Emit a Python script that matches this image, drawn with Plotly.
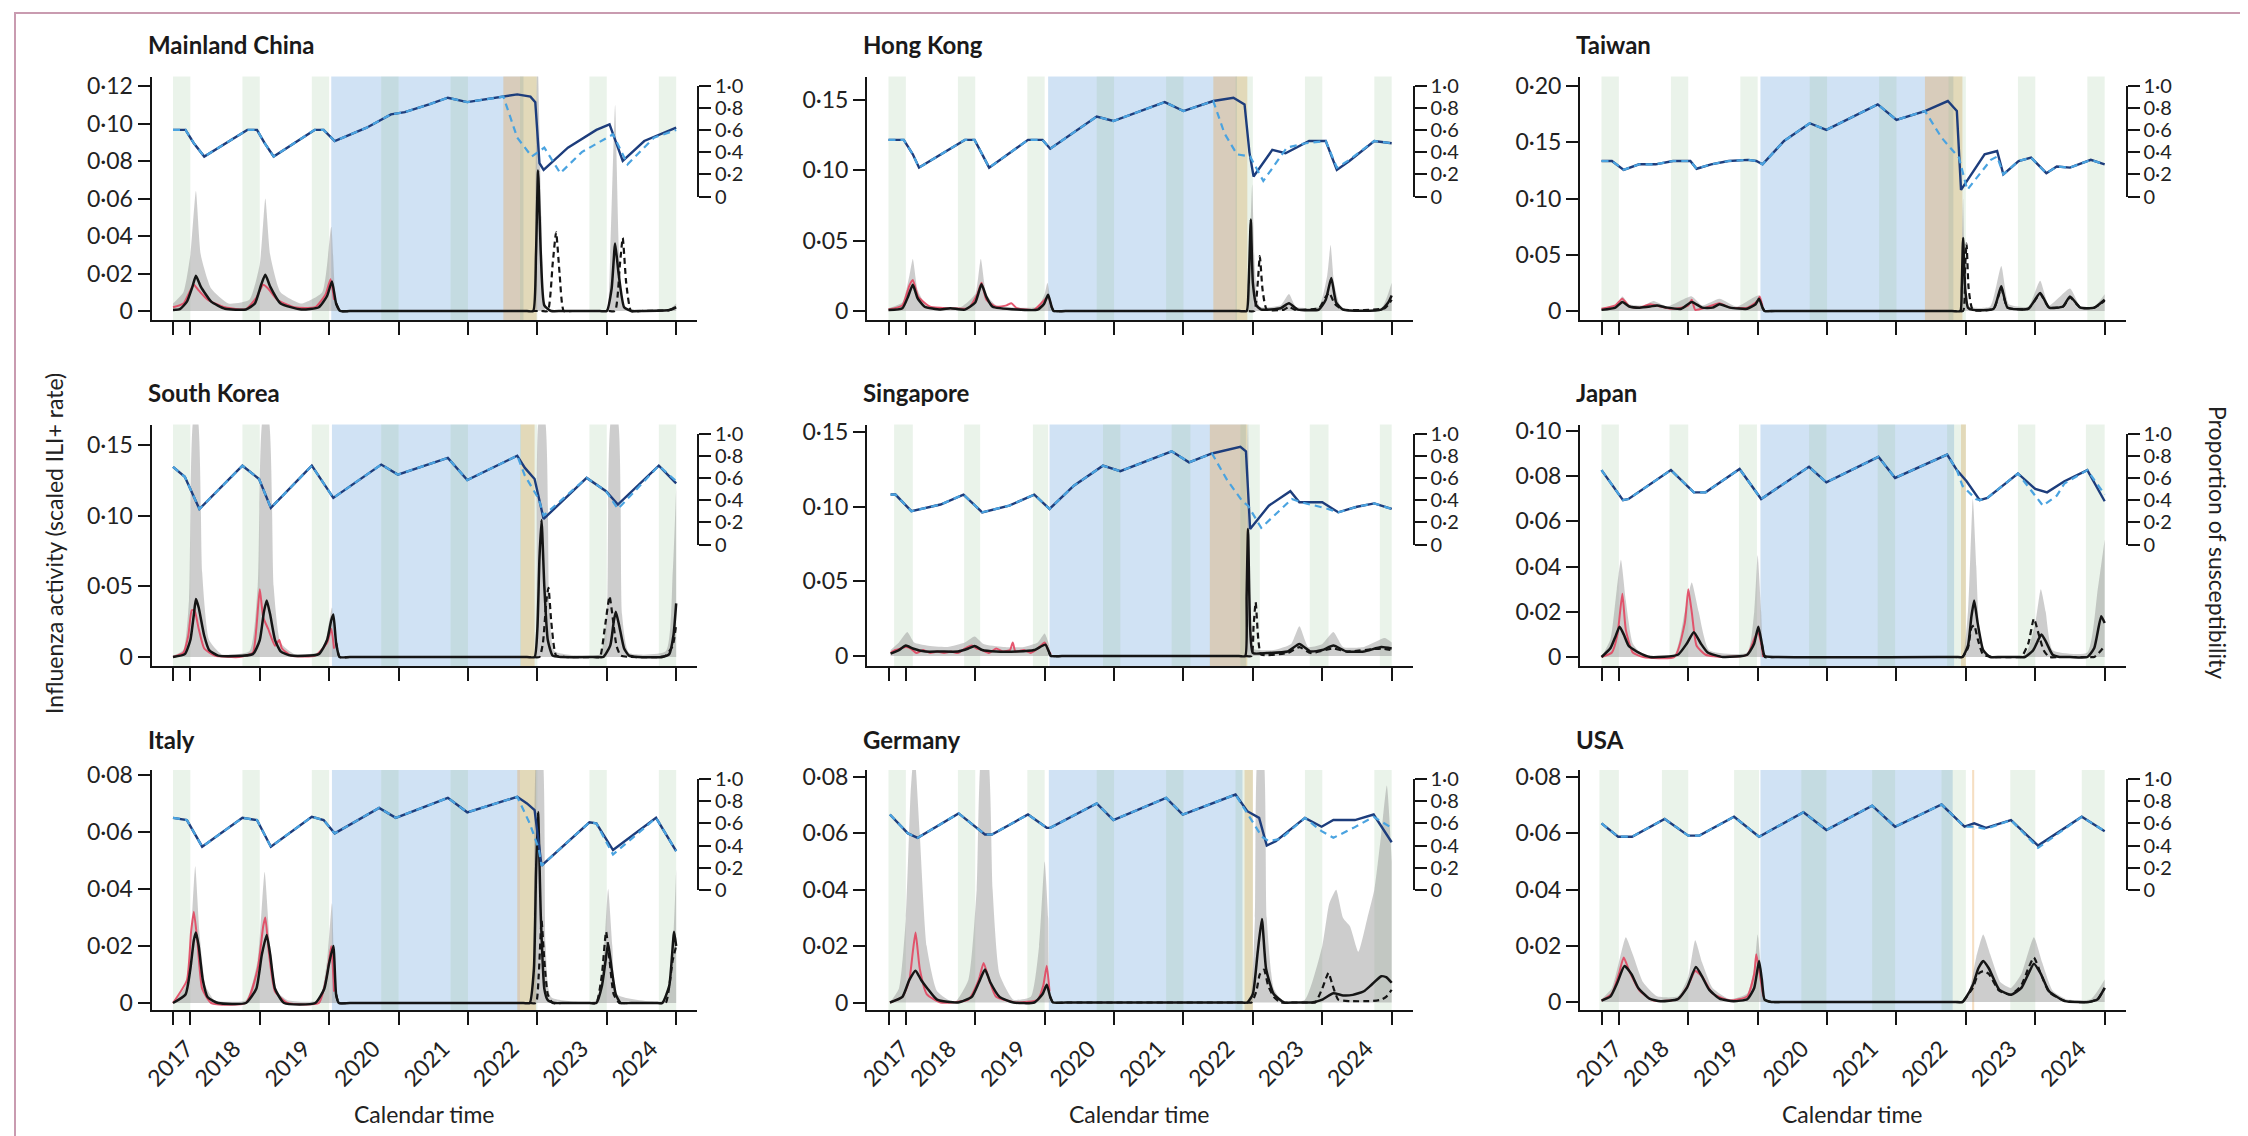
import plotly.graph_objects as go

W, H = 2248, 1136
FONT = "Lato"

# ---------------- shared axis values ----------------
YEAR_TICKS = [2017.75, 2018, 2019, 2020, 2021, 2022, 2023, 2024, 2025]
YEAR_LABEL_POS = [2017.95, 2018.63, 2019.64, 2020.64, 2021.64, 2022.64, 2023.64, 2024.64]
YEAR_LABELS = ["2017", "2018", "2019", "2020", "2021", "2022", "2023", "2024"]
SUS_TICKS = [0, 0.2, 0.4, 0.6, 0.8, 1.0]

# winter seasons (green bands)
season_std_start = [2017.75, 2018.75, 2019.75, 2020.75, 2021.75, 2022.75, 2023.75, 2024.75]
season_std_end = [2018.0, 2019.0, 2020.0, 2021.0, 2022.0, 2023.0, 2024.0, 2025.0]
season_jp_start = [2017.75, 2018.73, 2019.73, 2020.74, 2021.73, 2022.73, 2023.75, 2024.73]
season_jp_end = [2018.0, 2019.0, 2019.99, 2020.99, 2021.98, 2023.0, 2024.0, 2025.0]
season_us_start = [2017.72, 2018.62, 2019.66, 2020.63, 2021.65, 2022.65, 2023.64, 2024.67]
season_us_end = [2018.0, 2019.0, 2020.02, 2020.99, 2021.98, 2023.0, 2024.0, 2025.0]
season_sg_start = [2017.83, 2018.84, 2019.83, 2020.84, 2021.83, 2022.82, 2023.82, 2024.83]
season_sg_end = [2018.10, 2019.07, 2020.05, 2021.09, 2022.10, 2023.10, 2024.09, 2025.0]

# ---------------- Mainland China ----------------
cn_npi = [2020.03, 2022.80]
cn_relax = [2022.51, 2022.99]
cn_grey = [(2017.75,0.004),(2017.9,0.01),(2018.0,0.03),(2018.08,0.064),(2018.15,0.03),(2018.3,0.012),(2018.55,0.004),(2018.85,0.006),(2019.0,0.025),(2019.08,0.06),(2019.15,0.03),(2019.3,0.01),(2019.6,0.004),(2019.9,0.01),(2020.03,0.045),(2020.1,0.005),(2020.18,0),(2020.3,0),(2022.85,0),(2022.94,0),(2022.97,0.05),(2023.0,0.14),(2023.06,0.05),(2023.12,0),(2023.25,0),(2023.9,0),(2024.0,0),(2024.05,0.03),(2024.12,0.11),(2024.18,0.03),(2024.26,0.002),(2024.9,0.001),(2025.0,0.004)]
cn_obs = [(2017.75,0.002),(2017.9,0.004),(2018.0,0.011),(2018.05,0.014),(2018.12,0.011),(2018.25,0.006),(2018.5,0.002),(2018.8,0.001),(2018.95,0.007),(2019.05,0.014),(2019.12,0.012),(2019.25,0.006),(2019.5,0.002),(2019.8,0.002),(2019.95,0.009),(2020.02,0.017),(2020.07,0.006)]
cn_fit = [(2017.75,0.0005),(2017.85,0.001),(2017.95,0.005),(2018.03,0.013),(2018.08,0.0188),(2018.15,0.013),(2018.3,0.005),(2018.5,0.0012),(2018.8,0.0008),(2018.93,0.004),(2019.02,0.014),(2019.08,0.0193),(2019.15,0.013),(2019.3,0.004),(2019.6,0.0008),(2019.85,0.002),(2019.97,0.008),(2020.04,0.0158),(2020.1,0.004),(2020.16,0),(2020.3,0),(2022.85,0),(2022.94,0),(2022.98,0.03),(2023.01,0.075),(2023.05,0.03),(2023.1,0.003),(2023.2,0),(2023.35,0),(2023.9,0),(2024.0,0),(2024.07,0.012),(2024.12,0.036),(2024.17,0.02),(2024.25,0.002),(2024.35,0),(2024.5,0),(2024.9,0.0005),(2025.0,0.002)]
cn_cf = [(2020.1,0.004),(2020.16,0),(2020.3,0),(2023.05,0),(2023.15,0),(2023.22,0.025),(2023.27,0.042),(2023.32,0.02),(2023.38,0),(2023.5,0),(2024.02,0),(2024.12,0),(2024.19,0.025),(2024.23,0.039),(2024.28,0.015),(2024.35,0),(2024.5,0),(2024.9,0.0005),(2025.0,0.002)]
cn_sus = [(2017.75,0.60),(2017.93,0.60),(2018.05,0.48),(2018.2,0.36),(2018.82,0.60),(2018.96,0.60),(2019.07,0.48),(2019.2,0.36),(2019.79,0.60),(2019.92,0.60),(2020.08,0.50),(2020.54,0.62),(2020.89,0.74),(2021.09,0.76),(2021.44,0.83),(2021.71,0.89),(2021.99,0.85),(2022.47,0.90),(2022.71,0.92),(2022.9,0.90),(2022.97,0.85),(2023.03,0.30),(2023.09,0.24),(2023.44,0.44),(2023.85,0.60),(2024.04,0.65),(2024.23,0.32),(2024.54,0.50),(2025.0,0.62)]
cn_sus_cf = [(2022.51,0.90),(2022.71,0.53),(2022.92,0.36),(2023.1,0.44),(2023.33,0.21),(2023.64,0.40),(2024.09,0.56),(2024.3,0.29),(2024.68,0.53),(2025.0,0.60)]

# ---------------- Hong Kong ----------------
hk_npi = [2020.05, 2022.77]
hk_relax = [2022.43, 2022.92]
hk_grey = [(2017.75,0.002),(2017.95,0.006),(2018.05,0.025),(2018.1,0.037),(2018.17,0.015),(2018.3,0.004),(2018.8,0.003),(2019.0,0.012),(2019.08,0.037),(2019.16,0.012),(2019.3,0.004),(2019.9,0.003),(2020.0,0.012),(2020.04,0.02),(2020.1,0.004),(2020.15,0),(2020.3,0),(2022.8,0),(2022.92,0),(2022.96,0.05),(2022.99,0.09),(2023.03,0.03),(2023.1,0.003),(2023.4,0.004),(2023.52,0.012),(2023.62,0.003),(2023.95,0.003),(2024.07,0.025),(2024.12,0.047),(2024.17,0.02),(2024.28,0.002),(2024.85,0.002),(2025.0,0.02)]
hk_obs = [(2017.75,0.001),(2017.95,0.004),(2018.05,0.018),(2018.1,0.022),(2018.18,0.01),(2018.35,0.003),(2018.6,0.002),(2018.9,0.002),(2019.03,0.012),(2019.09,0.02),(2019.16,0.008),(2019.3,0.003),(2019.45,0.004),(2019.52,0.0055),(2019.6,0.002),(2019.85,0.001),(2020.0,0.008),(2020.05,0.01),(2020.1,0.003)]
hk_fit = [(2017.75,0.0007),(2017.95,0.002),(2018.03,0.01),(2018.1,0.0186),(2018.17,0.009),(2018.27,0.003),(2018.5,0.001),(2018.64,0.002),(2018.85,0.001),(2019.0,0.006),(2019.09,0.019),(2019.16,0.01),(2019.25,0.003),(2019.6,0.001),(2019.9,0.001),(2019.99,0.005),(2020.05,0.0115),(2020.1,0.003),(2020.13,0),(2020.3,0),(2022.8,0),(2022.91,0),(2022.94,0.02),(2022.97,0.065),(2023.0,0.02),(2023.05,0.004),(2023.12,0.001),(2023.4,0.002),(2023.52,0.0055),(2023.65,0.001),(2023.95,0.001),(2024.05,0.008),(2024.13,0.0234),(2024.2,0.006),(2024.3,0.001),(2024.85,0.001),(2024.95,0.006),(2025.0,0.011)]
hk_cf = [(2020.1,0.003),(2020.13,0),(2020.3,0),(2022.9,0),(2023.02,0),(2023.07,0.02),(2023.1,0.039),(2023.14,0.015),(2023.2,0.001),(2023.45,0.001),(2023.52,0.003),(2023.6,0.001),(2023.95,0.002),(2024.05,0.01),(2024.1,0.013),(2024.18,0.005),(2024.3,0.001),(2024.9,0.002),(2025.0,0.008)]
hk_sus = [(2017.75,0.51),(2017.97,0.51),(2018.1,0.38),(2018.19,0.26),(2018.85,0.51),(2018.99,0.51),(2019.1,0.38),(2019.2,0.26),(2019.76,0.51),(2019.97,0.51),(2020.08,0.43),(2020.75,0.72),(2020.99,0.68),(2021.73,0.85),(2022.0,0.77),(2022.43,0.86),(2022.72,0.89),(2022.88,0.83),(2022.95,0.40),(2023.01,0.18),(2023.28,0.42),(2023.47,0.39),(2023.81,0.50),(2024.05,0.50),(2024.21,0.24),(2024.39,0.32),(2024.75,0.50),(2025.0,0.48)]
hk_sus_cf = [(2022.43,0.86),(2022.59,0.57),(2022.77,0.38),(2022.96,0.36),(2023.15,0.14),(2023.49,0.44),(2023.76,0.48),(2024.05,0.50),(2024.21,0.26),(2024.39,0.33),(2024.75,0.50),(2025.0,0.48)]

# ---------------- Taiwan ----------------
tw_npi = [2020.04, 2022.82]
tw_relax = [2022.41, 2022.95]
tw_grey = [(2017.75,0.002),(2017.95,0.005),(2018.05,0.013),(2018.15,0.006),(2018.35,0.005),(2018.5,0.009),(2018.7,0.004),(2019.05,0.013),(2019.2,0.005),(2019.45,0.011),(2019.7,0.004),(2020.02,0.014),(2020.08,0.004),(2020.12,0),(2020.25,0),(2022.8,0),(2022.91,0),(2022.94,0.05),(2022.96,0.1),(2022.99,0.03),(2023.05,0.004),(2023.35,0.004),(2023.51,0.04),(2023.62,0.006),(2023.9,0.004),(2024.07,0.027),(2024.2,0.005),(2024.5,0.02),(2024.65,0.004),(2024.85,0.004),(2025.0,0.015)]
tw_obs = [(2017.75,0.002),(2017.95,0.005),(2018.05,0.011),(2018.15,0.004),(2018.3,0.003),(2018.45,0.006),(2018.6,0.004),(2018.75,0.002),(2018.9,0.003),(2019.0,0.005),(2019.05,0.01),(2019.1,0.001),(2019.25,0.003),(2019.45,0.007),(2019.6,0.003),(2019.85,0.003),(2020.0,0.009),(2020.03,0.013),(2020.07,0.004)]
tw_fit = [(2017.75,0.001),(2017.95,0.003),(2018.05,0.008),(2018.15,0.004),(2018.3,0.003),(2018.45,0.004),(2018.55,0.005),(2018.7,0.003),(2018.9,0.002),(2019.05,0.008),(2019.2,0.003),(2019.35,0.003),(2019.45,0.006),(2019.6,0.003),(2019.85,0.002),(2019.97,0.006),(2020.02,0.011),(2020.07,0.003),(2020.1,0),(2020.25,0),(2022.8,0),(2022.92,0),(2022.94,0.02),(2022.96,0.065),(2022.99,0.02),(2023.03,0.003),(2023.1,0.001),(2023.4,0.002),(2023.51,0.022),(2023.6,0.003),(2023.9,0.002),(2024.07,0.016),(2024.2,0.003),(2024.4,0.004),(2024.5,0.013),(2024.65,0.003),(2024.85,0.003),(2025.0,0.01)]
tw_cf = [(2020.07,0.003),(2020.1,0),(2020.25,0),(2022.85,0),(2022.96,0),(2022.99,0.04),(2023.01,0.06),(2023.04,0.02),(2023.1,0.001),(2023.4,0.002),(2023.51,0.02),(2023.6,0.003),(2023.9,0.002),(2024.07,0.015),(2024.2,0.003),(2024.4,0.004),(2024.5,0.012),(2024.65,0.003),(2024.85,0.003),(2025.0,0.009)]
tw_sus = [(2017.75,0.32),(2017.9,0.32),(2018.07,0.24),(2018.29,0.29),(2018.53,0.29),(2018.78,0.32),(2019.03,0.32),(2019.12,0.25),(2019.33,0.29),(2019.58,0.32),(2019.86,0.33),(2019.98,0.32),(2020.07,0.29),(2020.38,0.50),(2020.75,0.66),(2020.99,0.60),(2021.73,0.83),(2022.0,0.69),(2022.41,0.77),(2022.74,0.86),(2022.87,0.77),(2022.93,0.06),(2023.27,0.38),(2023.45,0.41),(2023.54,0.20),(2023.76,0.32),(2023.94,0.35),(2024.16,0.21),(2024.31,0.27),(2024.5,0.26),(2024.8,0.33),(2025.0,0.29)]
tw_sus_cf = [(2022.41,0.77),(2022.65,0.53),(2022.9,0.35),(2023.02,0.06),(2023.36,0.33),(2023.45,0.36),(2023.54,0.20),(2023.76,0.32),(2023.94,0.35),(2024.16,0.21),(2024.31,0.27),(2024.5,0.26),(2024.8,0.33),(2025.0,0.29)]

# ---------------- South Korea ----------------
kr_npi = [2020.04, 2022.76]
kr_relax = [2022.76, 2022.96]
kr_grey = [(2017.75,0.001),(2017.9,0.005),(2017.98,0.04),(2018.05,0.17),(2018.1,0.17),(2018.17,0.06),(2018.27,0.012),(2018.45,0.002),(2018.85,0.004),(2018.97,0.05),(2019.05,0.17),(2019.12,0.17),(2019.2,0.05),(2019.3,0.01),(2019.5,0.002),(2019.9,0.004),(2020.0,0.025),(2020.04,0.035),(2020.08,0.01),(2020.15,0),(2020.3,0),(2022.85,0),(2022.95,0),(2022.99,0.05),(2023.03,0.17),(2023.1,0.17),(2023.17,0.04),(2023.25,0.004),(2023.9,0.002),(2024.0,0.03),(2024.07,0.17),(2024.15,0.17),(2024.22,0.03),(2024.32,0.003),(2024.85,0.004),(2024.95,0.06),(2025.0,0.12)]
kr_obs = [(2017.75,0.0),(2017.9,0.003),(2017.97,0.015),(2018.02,0.033),(2018.06,0.033),(2018.12,0.02),(2018.2,0.006),(2018.35,0.001),(2018.7,0.0),(2018.9,0.003),(2018.95,0.02),(2019.0,0.048),(2019.05,0.028),(2019.12,0.02),(2019.22,0.008),(2019.28,0.012),(2019.32,0.006),(2019.45,0.001),(2019.8,0.001),(2019.97,0.01),(2020.03,0.02),(2020.07,0.006)]
kr_fit = [(2017.75,0.0),(2017.92,0.002),(2018.0,0.012),(2018.05,0.03),(2018.08,0.041),(2018.12,0.035),(2018.2,0.015),(2018.27,0.005),(2018.4,0.001),(2018.9,0.002),(2019.0,0.012),(2019.06,0.032),(2019.1,0.04),(2019.15,0.03),(2019.22,0.012),(2019.3,0.004),(2019.45,0.001),(2019.85,0.002),(2019.97,0.012),(2020.03,0.026),(2020.06,0.03),(2020.1,0.01),(2020.15,0),(2020.3,0),(2022.85,0),(2022.96,0),(2023.0,0.02),(2023.03,0.07),(2023.06,0.097),(2023.1,0.05),(2023.15,0.012),(2023.22,0.001),(2023.35,0),(2023.85,0),(2023.95,0.0),(2024.05,0.008),(2024.1,0.025),(2024.13,0.032),(2024.18,0.022),(2024.25,0.006),(2024.32,0.001),(2024.45,0),(2024.8,0),(2024.9,0.002),(2024.96,0.015),(2025.0,0.038)]
kr_cf = [(2020.1,0.01),(2020.15,0),(2020.3,0),(2022.9,0),(2023.03,0),(2023.08,0.01),(2023.13,0.04),(2023.16,0.049),(2023.2,0.025),(2023.27,0.001),(2023.4,0),(2023.8,0),(2023.9,0.0),(2023.97,0.02),(2024.04,0.043),(2024.08,0.03),(2024.14,0.008),(2024.2,0.001),(2024.35,0),(2024.75,0),(2024.85,0.001),(2024.95,0.008),(2025.0,0.023)]
kr_sus = [(2017.75,0.70),(2017.92,0.61),(2018.13,0.32),(2018.75,0.71),(2018.99,0.59),(2019.16,0.33),(2019.75,0.71),(2020.06,0.42),(2020.75,0.72),(2020.99,0.63),(2021.71,0.78),(2021.99,0.58),(2022.71,0.80),(2022.82,0.69),(2022.96,0.59),(2023.09,0.23),(2023.71,0.60),(2023.99,0.48),(2024.16,0.36),(2024.75,0.71),(2025.0,0.55)]
kr_sus_cf = [(2022.71,0.80),(2022.82,0.62),(2023.02,0.41),(2023.09,0.26),(2023.71,0.60),(2023.99,0.48),(2024.16,0.32),(2024.75,0.71),(2025.0,0.57)]

# ---------------- Singapore ----------------
sg_npi = [2020.07, 2022.90]
sg_relax = [2022.38, 2022.92]
sg_grey = [(2017.78,0.004),(2017.9,0.009),(2018.02,0.016),(2018.12,0.009),(2018.3,0.007),(2018.6,0.006),(2018.85,0.009),(2018.99,0.013),(2019.12,0.008),(2019.4,0.006),(2019.7,0.006),(2019.9,0.009),(2020.0,0.015),(2020.06,0.008),(2020.1,0),(2020.25,0),(2022.78,0),(2022.88,0),(2022.91,0.1),(2022.93,0.16),(2022.96,0.04),(2023.0,0.005),(2023.3,0.004),(2023.55,0.008),(2023.67,0.02),(2023.8,0.006),(2024.0,0.008),(2024.16,0.016),(2024.3,0.006),(2024.6,0.006),(2024.9,0.012),(2025.0,0.009)]
sg_obs = [(2017.78,0.002),(2017.85,0.004),(2017.92,0.005),(2018.0,0.006),(2018.07,0.005),(2018.15,0.002),(2018.25,0.004),(2018.35,0.002),(2018.45,0.003),(2018.55,0.002),(2018.65,0.003),(2018.75,0.002),(2018.85,0.005),(2018.95,0.007),(2019.02,0.005),(2019.1,0.004),(2019.2,0.002),(2019.3,0.005),(2019.4,0.003),(2019.5,0.004),(2019.54,0.009),(2019.58,0.003),(2019.7,0.004),(2019.8,0.002),(2019.9,0.005),(2020.0,0.009),(2020.05,0.004),(2020.09,0.001)]
sg_fit = [(2017.78,0.0016),(2017.9,0.004),(2018.0,0.007),(2018.1,0.005),(2018.28,0.003),(2018.5,0.003),(2018.75,0.003),(2018.9,0.005),(2018.99,0.0067),(2019.1,0.004),(2019.3,0.003),(2019.6,0.003),(2019.85,0.004),(2020.01,0.0076),(2020.06,0.003),(2020.09,0),(2020.25,0),(2022.8,0),(2022.89,0),(2022.91,0.04),(2022.93,0.085),(2022.96,0.02),(2023.0,0.002),(2023.2,0.002),(2023.5,0.003),(2023.67,0.008),(2023.83,0.003),(2024.0,0.004),(2024.16,0.007),(2024.35,0.003),(2024.6,0.003),(2024.85,0.006),(2025.0,0.005)]
sg_cf = [(2020.06,0.003),(2020.09,0),(2020.25,0),(2022.88,0),(2022.98,0),(2023.01,0.02),(2023.04,0.036),(2023.08,0.01),(2023.12,0.001),(2023.5,0.002),(2023.67,0.006),(2023.83,0.002),(2024.16,0.005),(2024.35,0.003),(2024.85,0.005),(2025.0,0.004)]
sg_sus = [(2017.78,0.45),(2017.85,0.45),(2018.08,0.30),(2018.5,0.36),(2018.83,0.45),(2019.1,0.29),(2019.49,0.35),(2019.85,0.45),(2020.07,0.32),(2020.42,0.53),(2020.84,0.71),(2021.09,0.66),(2021.83,0.84),(2022.08,0.74),(2022.41,0.82),(2022.82,0.88),(2022.9,0.84),(2022.96,0.14),(2023.23,0.35),(2023.54,0.48),(2023.67,0.38),(2024.0,0.38),(2024.23,0.29),(2024.5,0.34),(2024.75,0.37),(2025.0,0.32)]
sg_sus_cf = [(2022.41,0.82),(2022.63,0.58),(2022.85,0.39),(2022.93,0.35),(2023.12,0.15),(2023.56,0.41),(2023.7,0.38),(2024.03,0.33),(2024.23,0.29),(2024.5,0.34),(2024.75,0.37),(2025.0,0.32)]

# ---------------- Japan ----------------
jp_npi = [2020.04, 2022.83]
jp_relax = [2022.93, 2023.0]
jp_grey = [(2017.75,0.0),(2017.88,0.008),(2017.97,0.03),(2018.03,0.043),(2018.1,0.025),(2018.2,0.006),(2018.35,0.001),(2018.8,0.001),(2018.95,0.02),(2019.05,0.033),(2019.15,0.02),(2019.3,0.003),(2019.85,0.002),(2019.95,0.02),(2020.0,0.045),(2020.05,0.02),(2020.1,0.0),(2020.25,0),(2022.85,0),(2022.95,0.0),(2023.03,0.02),(2023.1,0.07),(2023.15,0.04),(2023.2,0.01),(2023.3,0.001),(2023.85,0.001),(2024.0,0.015),(2024.08,0.03),(2024.15,0.02),(2024.25,0.003),(2024.75,0.002),(2024.9,0.03),(2025.0,0.052)]
jp_obs = [(2017.75,0.0),(2017.9,0.002),(2017.98,0.01),(2018.05,0.028),(2018.1,0.012),(2018.2,0.002),(2018.35,0.0),(2018.8,0.0),(2018.95,0.015),(2019.0,0.030),(2019.05,0.02),(2019.12,0.005),(2019.25,0.001),(2019.5,0.0),(2019.85,0.001),(2019.95,0.008),(2020.0,0.011),(2020.05,0.006),(2020.08,0.0)]
jp_fit = [(2017.75,0.0),(2017.88,0.004),(2017.95,0.009),(2018.01,0.0134),(2018.07,0.01),(2018.14,0.005),(2018.28,0.002),(2018.45,0.0),(2018.85,0.001),(2018.98,0.006),(2019.08,0.011),(2019.18,0.006),(2019.28,0.002),(2019.5,0.0),(2019.85,0.001),(2019.95,0.006),(2020.01,0.0134),(2020.06,0.006),(2020.1,0.0005),(2020.25,0),(2022.85,0),(2022.95,0.0),(2023.03,0.005),(2023.08,0.018),(2023.12,0.025),(2023.17,0.015),(2023.25,0.003),(2023.35,0.0),(2023.5,0),(2023.75,0),(2023.85,0.0),(2023.97,0.003),(2024.05,0.008),(2024.09,0.010),(2024.15,0.007),(2024.25,0.001),(2024.35,0.0),(2024.5,0),(2024.75,0.0),(2024.85,0.004),(2024.95,0.018),(2025.0,0.015)]
jp_cf = [(2020.06,0.006),(2020.1,0.0),(2020.25,0),(2022.85,0),(2022.95,0.0),(2023.03,0.004),(2023.08,0.013),(2023.12,0.014),(2023.17,0.008),(2023.25,0.001),(2023.4,0),(2023.7,0),(2023.8,0.0),(2023.9,0.006),(2023.98,0.017),(2024.05,0.01),(2024.12,0.003),(2024.2,0.0),(2024.35,0),(2024.75,0),(2024.85,0.0),(2024.95,0.003),(2025.0,0.005)]
jp_sus = [(2017.75,0.67),(2018.06,0.40),(2018.14,0.41),(2018.75,0.67),(2019.08,0.47),(2019.25,0.47),(2019.74,0.68),(2020.05,0.41),(2020.74,0.70),(2020.99,0.56),(2021.74,0.79),(2021.98,0.60),(2022.73,0.81),(2022.87,0.67),(2023.01,0.57),(2023.2,0.40),(2023.31,0.42),(2023.75,0.64),(2024.0,0.50),(2024.17,0.47),(2024.42,0.57),(2024.75,0.67),(2025.0,0.39)]
jp_sus_cf = [(2022.87,0.67),(2022.95,0.53),(2023.14,0.41),(2023.2,0.40),(2023.31,0.42),(2023.75,0.64),(2024.0,0.44),(2024.11,0.35),(2024.31,0.44),(2024.42,0.55),(2024.75,0.67),(2025.0,0.45)]

# ---------------- Italy ----------------
it_npi = [2020.04, 2022.75]
it_relax = [2022.71, 2022.98]
it_grey = [(2017.75,0.0),(2017.93,0.006),(2018.01,0.025),(2018.07,0.048),(2018.13,0.025),(2018.22,0.006),(2018.35,0.001),(2018.8,0.001),(2018.97,0.015),(2019.07,0.046),(2019.15,0.02),(2019.25,0.004),(2019.4,0.001),(2019.85,0.001),(2019.97,0.015),(2020.04,0.035),(2020.08,0.01),(2020.14,0.0),(2020.3,0),(2022.8,0),(2022.9,0.0),(2022.95,0.03),(2023.0,0.09),(2023.06,0.09),(2023.12,0.02),(2023.2,0.002),(2023.85,0.001),(2023.95,0.015),(2024.02,0.04),(2024.08,0.02),(2024.15,0.003),(2024.85,0.001),(2024.95,0.02),(2025.0,0.047)]
it_obs = [(2017.75,0.0),(2017.95,0.008),(2018.01,0.025),(2018.05,0.032),(2018.1,0.022),(2018.17,0.005),(2018.3,0.0),(2018.8,0.0),(2018.97,0.012),(2019.05,0.027),(2019.08,0.030),(2019.13,0.018),(2019.22,0.004),(2019.4,0.0),(2019.85,0.0),(2019.97,0.01),(2020.03,0.02),(2020.07,0.004)]
it_fit = [(2017.75,0.0),(2017.93,0.003),(2018.0,0.012),(2018.05,0.022),(2018.08,0.0247),(2018.12,0.02),(2018.18,0.008),(2018.25,0.002),(2018.4,0.0),(2018.8,0.0),(2018.95,0.005),(2019.03,0.017),(2019.1,0.0239),(2019.15,0.017),(2019.22,0.005),(2019.35,0.0),(2019.8,0.0),(2019.93,0.005),(2020.0,0.014),(2020.06,0.020),(2020.1,0.003),(2020.14,0.0),(2020.3,0),(2022.8,0),(2022.89,0.0),(2022.95,0.012),(2022.98,0.045),(2023.01,0.067),(2023.05,0.03),(2023.1,0.005),(2023.15,0.001),(2023.25,0.0),(2023.4,0),(2023.75,0),(2023.85,0.0),(2023.93,0.006),(2024.0,0.018),(2024.02,0.021),(2024.07,0.012),(2024.13,0.003),(2024.2,0.0),(2024.35,0),(2024.7,0),(2024.8,0.0),(2024.9,0.006),(2024.97,0.025),(2025.0,0.02)]
it_cf = [(2020.1,0.003),(2020.14,0.0),(2020.3,0),(2022.88,0),(2022.98,0.0),(2023.02,0.01),(2023.06,0.029),(2023.1,0.015),(2023.15,0.003),(2023.22,0.0),(2023.35,0),(2023.75,0),(2023.85,0.0),(2023.93,0.01),(2023.99,0.025),(2024.04,0.015),(2024.1,0.003),(2024.18,0.0),(2024.3,0),(2024.75,0),(2024.85,0.0),(2024.95,0.015),(2025.0,0.02)]
it_sus = [(2017.75,0.65),(2017.95,0.63),(2018.17,0.39),(2018.75,0.65),(2018.96,0.63),(2019.16,0.39),(2019.75,0.66),(2019.92,0.63),(2020.08,0.51),(2020.72,0.74),(2020.96,0.65),(2021.71,0.83),(2021.99,0.70),(2022.71,0.84),(2022.85,0.78),(2022.96,0.72),(2023.06,0.22),(2023.75,0.61),(2023.85,0.60),(2024.09,0.36),(2024.71,0.65),(2025.0,0.35)]
it_sus_cf = [(2022.71,0.84),(2022.89,0.60),(2023.02,0.37),(2023.06,0.22),(2023.75,0.61),(2023.85,0.60),(2024.09,0.32),(2024.71,0.65),(2025.0,0.35)]

# ---------------- Germany ----------------
de_npi = [2020.06, 2022.85]
de_relax = [2022.88, 2023.0]
de_grey = [(2017.77,0.0),(2017.9,0.005),(2018.0,0.03),(2018.07,0.075),(2018.12,0.09),(2018.2,0.06),(2018.3,0.02),(2018.45,0.004),(2018.7,0.0),(2018.9,0.008),(2019.02,0.04),(2019.1,0.09),(2019.17,0.09),(2019.25,0.04),(2019.35,0.01),(2019.55,0.001),(2019.8,0.002),(2019.92,0.02),(2020.0,0.05),(2020.05,0.03),(2020.1,0.0),(2020.25,0),(2022.85,0),(2022.95,0.0),(2023.03,0.03),(2023.08,0.09),(2023.14,0.09),(2023.2,0.03),(2023.3,0.005),(2023.45,0.0),(2023.75,0.001),(2024.0,0.02),(2024.1,0.035),(2024.2,0.04),(2024.3,0.03),(2024.4,0.027),(2024.52,0.018),(2024.65,0.03),(2024.75,0.04),(2024.85,0.06),(2024.93,0.077),(2025.0,0.05)]
de_obs = [(2017.77,0.0),(2017.95,0.002),(2018.05,0.008),(2018.1,0.018),(2018.14,0.0248),(2018.2,0.012),(2018.3,0.003),(2018.5,0.0),(2018.9,0.001),(2019.05,0.008),(2019.12,0.014),(2019.2,0.008),(2019.3,0.002),(2019.6,0.0),(2019.9,0.001),(2019.98,0.006),(2020.03,0.013),(2020.07,0.004)]
de_fit = [(2017.77,0.0),(2017.95,0.002),(2018.05,0.008),(2018.14,0.0113),(2018.22,0.008),(2018.31,0.005),(2018.45,0.001),(2018.75,0.0),(2018.95,0.002),(2019.05,0.007),(2019.14,0.0117),(2019.22,0.007),(2019.35,0.002),(2019.55,0.0),(2019.85,0.0),(2019.97,0.003),(2020.03,0.0063),(2020.08,0.002),(2020.12,0.0),(2020.3,0),(2022.8,0),(2022.92,0.0),(2023.0,0.003),(2023.07,0.018),(2023.13,0.0296),(2023.19,0.012),(2023.3,0.003),(2023.45,0.0),(2023.6,0),(2023.75,0),(2023.85,0.0),(2024.0,0.001),(2024.16,0.0033),(2024.3,0.0025),(2024.44,0.0027),(2024.6,0.004),(2024.71,0.0063),(2024.85,0.0093),(2024.92,0.009),(2025.0,0.007)]
de_cf = [(2020.08,0.002),(2020.12,0.0),(2020.3,0),(2022.88,0),(2022.98,0.0),(2023.05,0.004),(2023.1,0.01),(2023.16,0.0117),(2023.22,0.006),(2023.3,0.002),(2023.4,0.0),(2023.55,0),(2023.8,0),(2023.9,0.0),(2024.0,0.005),(2024.06,0.009),(2024.09,0.0105),(2024.15,0.006),(2024.23,0.001),(2024.4,0.0005),(2024.7,0.0005),(2024.85,0.001),(2024.92,0.002),(2025.0,0.0045)]
de_sus = [(2017.77,0.68),(2018.03,0.51),(2018.17,0.47),(2018.76,0.69),(2019.14,0.50),(2019.24,0.50),(2019.76,0.68),(2020.03,0.56),(2020.08,0.56),(2020.75,0.78),(2020.99,0.63),(2021.75,0.83),(2021.99,0.68),(2022.75,0.86),(2022.92,0.71),(2023.09,0.65),(2023.2,0.40),(2023.33,0.44),(2023.75,0.65),(2023.99,0.57),(2024.16,0.63),(2024.47,0.63),(2024.74,0.68),(2025.0,0.43)]
de_sus_cf = [(2022.75,0.86),(2022.96,0.65),(2023.13,0.48),(2023.23,0.44),(2023.4,0.46),(2023.75,0.65),(2023.99,0.53),(2024.16,0.47),(2024.45,0.56),(2024.74,0.66),(2025.0,0.56)]

# ---------------- USA ----------------
us_npi = [2020.04, 2022.81]
us_relax = [2023.09, 2023.12]
us_grey = [(2017.75,0.001),(2017.9,0.005),(2018.0,0.014),(2018.1,0.023),(2018.2,0.017),(2018.35,0.007),(2018.55,0.002),(2018.85,0.002),(2019.0,0.009),(2019.1,0.022),(2019.2,0.014),(2019.35,0.005),(2019.6,0.001),(2019.85,0.003),(2019.95,0.012),(2020.0,0.024),(2020.05,0.012),(2020.12,0.0),(2020.25,0),(2022.85,0),(2022.95,0.0),(2023.05,0.004),(2023.15,0.016),(2023.25,0.024),(2023.35,0.017),(2023.5,0.007),(2023.65,0.005),(2023.8,0.01),(2023.98,0.023),(2024.1,0.014),(2024.25,0.004),(2024.45,0.001),(2024.8,0.001),(2025.0,0.008)]
us_obs = [(2017.75,0.0005),(2017.9,0.003),(2018.0,0.01),(2018.07,0.0158),(2018.15,0.011),(2018.3,0.004),(2018.5,0.0005),(2018.85,0.001),(2019.0,0.006),(2019.1,0.011),(2019.2,0.009),(2019.35,0.003),(2019.6,0.0005),(2019.85,0.002),(2019.95,0.01),(2019.98,0.017),(2020.03,0.01),(2020.08,0.002)]
us_fit = [(2017.75,0.0005),(2017.88,0.002),(2017.98,0.007),(2018.08,0.0128),(2018.18,0.01),(2018.28,0.005),(2018.44,0.0012),(2018.6,0.0003),(2018.85,0.001),(2018.98,0.005),(2019.11,0.0124),(2019.2,0.009),(2019.3,0.0044),(2019.45,0.0012),(2019.65,0.0003),(2019.85,0.001),(2019.95,0.005),(2020.02,0.0146),(2020.06,0.008),(2020.1,0.0008),(2020.2,0.0),(2020.35,0),(2022.85,0),(2022.95,0.0),(2023.0,0.0015),(2023.1,0.006),(2023.18,0.012),(2023.25,0.0146),(2023.33,0.012),(2023.48,0.0044),(2023.65,0.0026),(2023.8,0.005),(2023.9,0.01),(2023.98,0.0136),(2024.08,0.01),(2024.2,0.0038),(2024.43,0.0003),(2024.77,0.0),(2024.9,0.001),(2025.0,0.005)]
us_cf = [(2020.1,0.0008),(2020.2,0.0),(2020.35,0),(2022.85,0),(2022.95,0.0),(2023.0,0.0015),(2023.1,0.005),(2023.18,0.01),(2023.25,0.011),(2023.33,0.01),(2023.48,0.004),(2023.65,0.0026),(2023.8,0.006),(2023.9,0.012),(2023.98,0.0158),(2024.08,0.01),(2024.2,0.0035),(2024.43,0.0003),(2024.77,0.0),(2024.9,0.001),(2025.0,0.005)]
us_sus = [(2017.75,0.60),(2017.99,0.48),(2018.19,0.48),(2018.66,0.64),(2019.0,0.49),(2019.16,0.49),(2019.66,0.66),(2020.02,0.48),(2020.66,0.70),(2020.99,0.54),(2021.65,0.76),(2021.98,0.57),(2022.65,0.77),(2022.98,0.57),(2023.12,0.60),(2023.29,0.56),(2023.65,0.63),(2024.04,0.40),(2024.67,0.66),(2025.0,0.53)]
us_sus_cf = [(2022.98,0.57),(2023.12,0.57),(2023.29,0.55),(2023.65,0.63),(2024.04,0.38),(2024.67,0.66),(2025.0,0.53)]

# ---------------- panel table (built from the arrays above) ----------------
def ticks_text(vals, nd):
    return ["0" if v == 0 else f"{v:.{nd}f}".replace(".", "\u00b7") for v in vals]

panels = [
    dict(name="Mainland China", grey=cn_grey, obs=cn_obs, fit=cn_fit, cf=cn_cf, sus=cn_sus, sus_cf=cn_sus_cf,
         npi=cn_npi, relax=cn_relax, s0=season_std_start, s1=season_std_end,
         yt=[0, 0.02, 0.04, 0.06, 0.08, 0.10, 0.12], tick_px=78.0, zero_px=303.0),
    dict(name="Hong Kong", grey=hk_grey, obs=hk_obs, fit=hk_fit, cf=hk_cf, sus=hk_sus, sus_cf=hk_sus_cf,
         npi=hk_npi, relax=hk_relax, s0=season_std_start, s1=season_std_end,
         yt=[0, 0.05, 0.10, 0.15], tick_px=92.0, zero_px=303.0),
    dict(name="Taiwan", grey=tw_grey, obs=tw_obs, fit=tw_fit, cf=tw_cf, sus=tw_sus, sus_cf=tw_sus_cf,
         npi=tw_npi, relax=tw_relax, s0=season_std_start, s1=season_std_end,
         yt=[0, 0.05, 0.10, 0.15, 0.20], tick_px=78.0, zero_px=303.0),
    dict(name="South Korea", grey=kr_grey, obs=kr_obs, fit=kr_fit, cf=kr_cf, sus=kr_sus, sus_cf=kr_sus_cf,
         npi=kr_npi, relax=kr_relax, s0=season_std_start, s1=season_std_end,
         yt=[0, 0.05, 0.10, 0.15], tick_px=437.0, zero_px=649.0),
    dict(name="Singapore", grey=sg_grey, obs=sg_obs, fit=sg_fit, cf=sg_cf, sus=sg_sus, sus_cf=sg_sus_cf,
         npi=sg_npi, relax=sg_relax, s0=season_sg_start, s1=season_sg_end,
         yt=[0, 0.05, 0.10, 0.15], tick_px=424.0, zero_px=648.0),
    dict(name="Japan", grey=jp_grey, obs=jp_obs, fit=jp_fit, cf=jp_cf, sus=jp_sus, sus_cf=jp_sus_cf,
         npi=jp_npi, relax=jp_relax, s0=season_jp_start, s1=season_jp_end,
         yt=[0, 0.02, 0.04, 0.06, 0.08, 0.10], tick_px=423.0, zero_px=649.0),
    dict(name="Italy", grey=it_grey, obs=it_obs, fit=it_fit, cf=it_cf, sus=it_sus, sus_cf=it_sus_cf,
         npi=it_npi, relax=it_relax, s0=season_std_start, s1=season_std_end,
         yt=[0, 0.02, 0.04, 0.06, 0.08], tick_px=767.0, zero_px=995.0),
    dict(name="Germany", grey=de_grey, obs=de_obs, fit=de_fit, cf=de_cf, sus=de_sus, sus_cf=de_sus_cf,
         npi=de_npi, relax=de_relax, s0=season_std_start, s1=season_std_end,
         yt=[0, 0.02, 0.04, 0.06, 0.08], tick_px=769.0, zero_px=994.5),
    dict(name="USA", grey=us_grey, obs=us_obs, fit=us_fit, cf=us_cf, sus=us_sus, sus_cf=us_sus_cf,
         npi=us_npi, relax=us_relax, s0=season_us_start, s1=season_us_end,
         yt=[0, 0.02, 0.04, 0.06, 0.08], tick_px=769.0, zero_px=994.0),
]

# ---------------- layout geometry (pixels) ----------------
COL_X = [(143.5, 689.0), (859.0, 1404.5), (1572.0, 2117.5)]
ROW_Y = [(68.5, 312.0), (416.5, 658.0), (762.0, 1002.0)]
TITLE_Y = [37, 384, 731]
X_RANGE = [2017.44, 2025.30]


def fx(px):
    return px / W


def fy(py):
    return 1 - py / H


def xs(pts):
    return [p[0] for p in pts]


def ys(pts):
    return [p[1] for p in pts]


def axname(letter, n):
    return letter if n == 1 else f"{letter}{n}"


BLACK = "#151515"
NAVY = "#1d3d7c"
LBLUE = "#4aa3e0"
RED = "rgba(226,70,96,0.9)"
GREY = "rgba(150,150,150,0.48)"

fig = go.Figure()
layout = dict(
    width=W, height=H, template="none",
    margin=dict(l=0, r=0, t=0, b=0),
    paper_bgcolor="white", plot_bgcolor="rgba(0,0,0,0)",
    showlegend=False,
    font=dict(family=FONT, size=23, color="#222"),
)
shapes = []
annotations = []

for i, p in enumerate(panels):
    r, c = divmod(i, 3)
    k, kr = i + 1, i + 10
    xa, ya, yb = axname("x", k), axname("y", k), axname("y", kr)
    xl, xr = COL_X[c]
    top, bot = ROW_Y[r]
    ppu = (p["zero_px"] - p["tick_px"]) / p["yt"][-1]
    y_range = [-(bot - p["zero_px"]) / ppu, (p["zero_px"] - top) / ppu]

    ax_common = dict(showgrid=False, zeroline=False, fixedrange=True,
                     showline=True, linecolor=BLACK, linewidth=2)
    layout[f"xaxis{k}"] = dict(
        ax_common, domain=[fx(xl), fx(xr)], range=X_RANGE, anchor=ya,
        tickmode="array", tickvals=YEAR_LABEL_POS, ticktext=YEAR_LABELS,
        ticks="outside", ticklen=14, tickcolor="rgba(0,0,0,0)", tickangle=-45,
        showticklabels=(r == 2), tickfont=dict(size=23),
        minor=dict(tickmode="array", tickvals=YEAR_TICKS, ticks="outside",
                   ticklen=13, tickwidth=2, tickcolor=BLACK, showgrid=False),
    )
    layout[f"yaxis{k}"] = dict(
        ax_common, domain=[fy(bot), fy(top)], range=y_range, anchor=xa,
        tickmode="array", tickvals=p["yt"], ticktext=ticks_text(p["yt"], 2),
        ticks="outside", ticklen=12, tickwidth=2, tickcolor=BLACK,
        tickfont=dict(size=23),
    )
    layout[f"yaxis{kr}"] = dict(
        ax_common, domain=[fy(top + 120), fy(top + 9)], range=[0, 1],
        anchor=xa, side="right",
        tickmode="array", tickvals=SUS_TICKS, ticktext=ticks_text(SUS_TICKS, 1),
        ticks="outside", ticklen=12, tickwidth=2, tickcolor=BLACK,
        tickfont=dict(size=20),
    )

    # background periods
    shapes.append(dict(type="rect", xref=xa, yref=f"{ya} domain",
                       x0=p["npi"][0], x1=p["npi"][1], y0=0, y1=1,
                       fillcolor="rgba(150,190,230,0.45)", line=dict(width=0), layer="below"))
    shapes.append(dict(type="rect", xref=xa, yref=f"{ya} domain",
                       x0=p["relax"][0], x1=p["relax"][1], y0=0, y1=1,
                       fillcolor="rgba(230,165,85,0.36)", line=dict(width=0), layer="below"))
    for a, b in zip(p["s0"], p["s1"]):
        shapes.append(dict(type="rect", xref=xa, yref=f"{ya} domain",
                           x0=a, x1=b, y0=0, y1=1,
                           fillcolor="rgba(150,195,150,0.2)", line=dict(width=0), layer="below"))

    sp = dict(shape="spline", smoothing=0.5)
    fig.add_trace(go.Scatter(x=xs(p["grey"]), y=ys(p["grey"]), xaxis=xa, yaxis=ya, mode="lines",
                             line=dict(width=0, **sp), fill="tozeroy", fillcolor=GREY, hoverinfo="skip"))
    fig.add_trace(go.Scatter(x=xs(p["obs"]), y=ys(p["obs"]), xaxis=xa, yaxis=ya, mode="lines",
                             line=dict(color=RED, width=2, **sp), hoverinfo="skip"))
    fig.add_trace(go.Scatter(x=xs(p["fit"]), y=ys(p["fit"]), xaxis=xa, yaxis=ya, mode="lines",
                             line=dict(color=BLACK, width=2.5, **sp), hoverinfo="skip"))
    fig.add_trace(go.Scatter(x=xs(p["cf"]), y=ys(p["cf"]), xaxis=xa, yaxis=ya, mode="lines",
                             line=dict(color=BLACK, width=2.2, dash="6px,4px", **sp), hoverinfo="skip"))
    sus_cf_full = [q for q in p["sus"] if q[0] < p["sus_cf"][0][0]] + p["sus_cf"]
    fig.add_trace(go.Scatter(x=xs(p["sus"]), y=ys(p["sus"]), xaxis=xa, yaxis=yb, mode="lines",
                             line=dict(color=NAVY, width=2.4), hoverinfo="skip"))
    fig.add_trace(go.Scatter(x=xs(sus_cf_full), y=ys(sus_cf_full), xaxis=xa, yaxis=yb, mode="lines",
                             line=dict(color=LBLUE, width=2.2, dash="7px,5px"), hoverinfo="skip"))

    annotations.append(dict(text=f"<b>{p['name']}</b>", xref="paper", yref="paper",
                            x=fx(xl - 6), y=fy(TITLE_Y[r]), xanchor="left", yanchor="middle",
                            showarrow=False, font=dict(size=24, color="#1a1a1a")))

for c in range(3):
    xl, xr = COL_X[c]
    annotations.append(dict(text="Calendar time", xref="paper", yref="paper",
                            x=fx((xl + xr) / 2), y=fy(1106), xanchor="center", yanchor="middle",
                            showarrow=False, font=dict(size=23, color="#222")))

annotations.append(dict(text="Influenza activity (scaled ILI+ rate)", xref="paper", yref="paper",
                        x=fx(46), y=fy(536), textangle=-90, xanchor="center", yanchor="middle",
                        showarrow=False, font=dict(size=23, color="#222")))
annotations.append(dict(text="Proportion of susceptibility", xref="paper", yref="paper",
                        x=fx(2210), y=fy(534), textangle=90, xanchor="center", yanchor="middle",
                        showarrow=False, font=dict(size=23, color="#222")))

# outer frame
shapes.append(dict(type="rect", xref="paper", yref="paper",
                   x0=fx(7), x1=fx(2242), y0=fy(1131), y1=fy(5),
                   line=dict(color="#c99bb0", width=2), fillcolor="rgba(0,0,0,0)", layer="above"))

layout["shapes"] = shapes
layout["annotations"] = annotations
fig.update_layout(**layout)
fig.write_html("out.html")
